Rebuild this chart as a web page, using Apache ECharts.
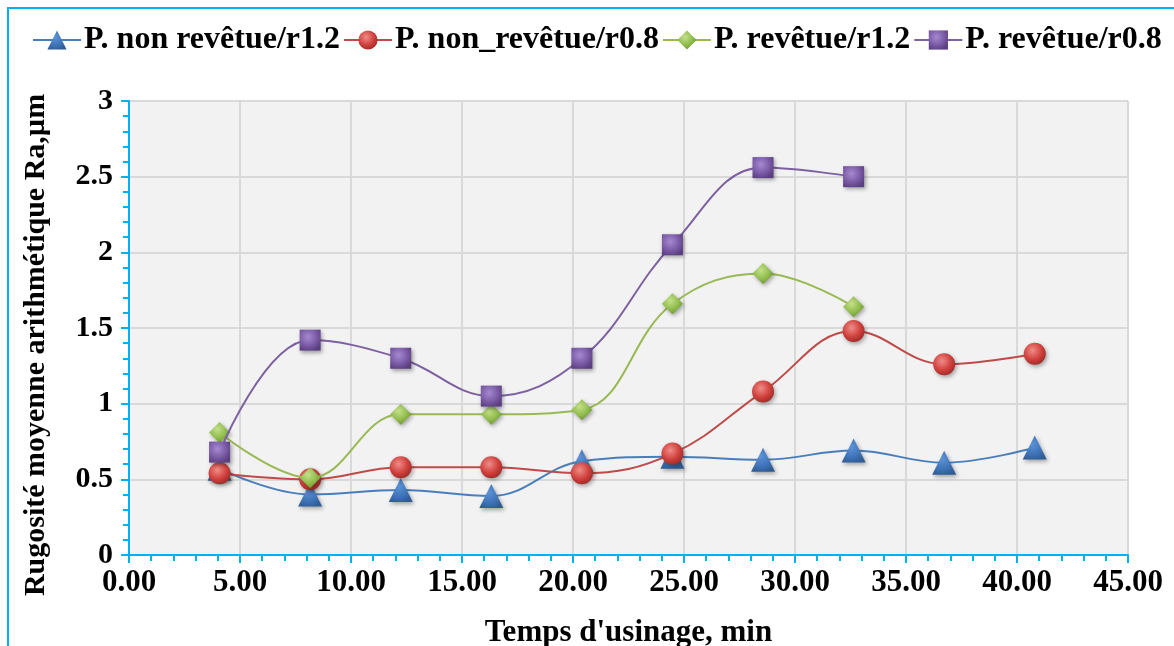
<!DOCTYPE html>
<html><head><meta charset="utf-8">
<script src="https://cdn.jsdelivr.net/npm/echarts@6/dist/echarts.min.js"></script>
<style>html,body{margin:0;padding:0;background:#fff}#c{width:1174px;height:646px}</style>
</head><body><div id="c"></div>
<script>
const seriesNames = ['P. non revêtue/r1.2', 'P. non_revêtue/r0.8', 'P. revêtue/r1.2', 'P. revêtue/r0.8'];
const times = [4.08, 8.16, 12.24, 16.32, 20.40, 24.48, 28.56, 32.64, 36.72, 40.80];
const nonRevR12 = [0.57, 0.40, 0.43, 0.39, 0.62, 0.65, 0.63, 0.69, 0.61, 0.71];
const nonRevR08 = [0.54, 0.50, 0.58, 0.58, 0.54, 0.67, 1.08, 1.48, 1.26, 1.33];
const revR12 = [0.81, 0.51, 0.93, 0.93, 0.96, 1.66, 1.86, 1.64];
const revR08 = [0.68, 1.42, 1.30, 1.05, 1.30, 2.05, 2.56, 2.50];
const xTicks = [0, 5, 10, 15, 20, 25, 30, 35, 40, 45];
const yTicks = [0, 0.5, 1, 1.5, 2, 2.5, 3];

const FONT = 'Liberation Serif';
const AXIS = '#00b0f0';
function pairs(vals){ return vals.map((v,i)=>[times[i], v]); }
function grad(light, base, dark){
  return {type:'radial', x:0.4, y:0.35, r:0.7, colorStops:[{offset:0,color:light},{offset:0.6,color:base},{offset:1,color:dark}]};
}
const colors = ['#4a7ebb', '#be4b48', '#98b954', '#7d60a0'];
const fills = [grad('#5b93d6','#3f75b8','#2f5c94'), grad('#f08c88','#d0403c','#9a2a27'), grad('#c4e08a','#8fbc4a','#6a9233'), grad('#a58ad0','#7b5aa6','#5a3f80')];
const symbols = ['triangle', 'circle', 'diamond', 'rect'];
const sizes = [24, 22, 21, 21];
const datas = [nonRevR12, nonRevR08, revR12, revR08];

const series = seriesNames.map((n,i)=>({
  name:n, type:'line', smooth:0.4, data:pairs(datas[i]),
  symbol:symbols[i], symbolSize:sizes[i],
  lineStyle:{color:colors[i], width:2},
  itemStyle:{color:fills[i], borderWidth:0, shadowBlur:4, shadowColor:'rgba(0,0,0,0.35)', shadowOffsetX:1.5, shadowOffsetY:2},
  z:2+i
}));

const chart = echarts.init(document.getElementById('c'));
chart.setOption({
  animation:false,
  color:colors,
  graphic:[{type:'rect', shape:{x:8, y:8, width:1300, height:800}, style:{fill:'none', stroke:AXIS, lineWidth:2}, silent:true}],
  legend:{
    top:24, left:32, width:1140, padding:0, itemWidth:48, itemHeight:24, itemGap:3,
    textStyle:{fontFamily:FONT, fontWeight:'bold', fontSize:32, color:'#000', padding:[0,0,0,-2]},
    data:seriesNames
  },
  grid:{left:129, right:46, top:101, bottom:91, show:true, backgroundColor:'#f2f2f2', borderWidth:0, outerBoundsMode:'none'},
  xAxis:{
    type:'value', min:0, max:45, interval:5,
    name:'Temps d\'usinage, min', nameLocation:'middle', nameGap:62,
    nameTextStyle:{fontFamily:FONT, fontWeight:'bold', fontSize:31, color:'#000'},
    axisLine:{show:true, lineStyle:{color:AXIS, width:2}},
    axisTick:{show:true, length:8, lineStyle:{color:AXIS, width:2}},
    minorTick:{show:true, splitNumber:5, length:6, lineStyle:{color:AXIS, width:2}},
    splitLine:{show:true, lineStyle:{color:'#d9d9d9', width:2}},
    axisLabel:{fontFamily:FONT, fontWeight:'bold', fontSize:31, color:'#000', margin:12,
      formatter:v=>xTicks.includes(v)?v.toFixed(2):''}
  },
  yAxis:{
    type:'value', min:0, max:3, interval:0.5,
    name:'Rugosité moyenne arithmétique Ra,µm', nameLocation:'middle', nameGap:78,
    nameTextStyle:{fontFamily:FONT, fontWeight:'bold', fontSize:30, color:'#000', padding:[0,34,0,0]},
    axisLine:{show:true, lineStyle:{color:AXIS, width:2}},
    axisTick:{show:true, length:8, lineStyle:{color:AXIS, width:2}},
    minorTick:{show:true, splitNumber:5, length:6, lineStyle:{color:AXIS, width:2}},
    splitLine:{show:true, lineStyle:{color:'#d9d9d9', width:2}},
    axisLabel:{fontFamily:FONT, fontWeight:'bold', fontSize:30, color:'#000', margin:16,
      formatter:v=>yTicks.includes(v)?String(v):''}
  },
  series:series
});
</script></body></html>
